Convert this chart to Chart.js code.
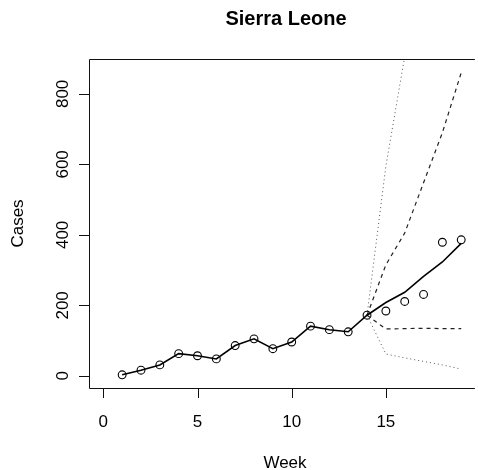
<!DOCTYPE html>
<html>
<head>
<meta charset="utf-8">
<title>Sierra Leone</title>
<script src="https://cdn.jsdelivr.net/npm/chart.js@4/dist/chart.umd.min.js"></script>
<style>
  html, body { margin: 0; padding: 0; background: #fff; }
  #wrap { width: 478px; height: 470px; position: relative; }
</style>
</head>
<body>
<div id="wrap"><canvas id="casesChart"></canvas></div>
<script>
// weekly case counts
var weeks = [1, 2, 3, 4, 5, 6, 7, 8, 9, 10, 11, 12, 13, 14, 15, 16, 17, 18, 19];
var observed = [3, 16, 31, 63, 57, 48, 86, 105, 77, 96, 141, 131, 125, 172, 184, 211, 231, 379, 386];
// fitted up to week 14, then projected median
var fitted = [3, 16, 31, 63, 57, 48, 86, 105, 77, 96, 141, 131, 125, 172, 208, 237, 282, 323, 376];

// projection bands start at week 14
var bandWeeks = [14, 15, 16, 17, 18, 19];
var upper50 = [172, 315, 405, 548, 690, 860];
var lower50 = [172, 133, 134, 135, 134, 134];
var upper95 = [172, 595, 906, 1250, 1650, 2100];
var lower95 = [172, 62, 51, 41, 31, 19];

var xTicks = [0, 5, 10, 15];
var yTicks = [0, 200, 400, 600, 800];

var FONT = '"Liberation Sans", Arial, Helvetica, sans-serif';

function pts(xs, ys) {
    return xs.map(function (x, i) { return { x: x, y: ys[i] }; });
}

// box, ticks and labels drawn in the base-graphics style
var axesPlugin = {
    id: 'baseAxes',
    afterDraw: function (chart) {
        var ctx = chart.ctx;
        var a = chart.chartArea;
        var sx = chart.scales.x, sy = chart.scales.y;
        ctx.save();
        ctx.strokeStyle = '#111';
        ctx.lineWidth = 1;
        ctx.beginPath();
        ctx.moveTo(a.right + 2, a.top + 0.5);
        ctx.lineTo(a.left + 0.5, a.top + 0.5);
        ctx.lineTo(a.left + 0.5, a.bottom + 0.5);
        ctx.lineTo(a.right + 2, a.bottom + 0.5);
        ctx.stroke();

        ctx.fillStyle = '#000';
        ctx.font = '17px ' + FONT;

        // x axis
        xTicks.forEach(function (t) {
            var px = Math.round(sx.getPixelForValue(t)) + 0.5;
            ctx.beginPath();
            ctx.moveTo(px, a.bottom + 1);
            ctx.lineTo(px, a.bottom + 10);
            ctx.stroke();
            ctx.textAlign = 'center';
            ctx.textBaseline = 'alphabetic';
            ctx.fillText(String(t), sx.getPixelForValue(t), 427);
        });

        // y axis, labels turned sideways
        yTicks.forEach(function (t) {
            var py = Math.round(sy.getPixelForValue(t)) + 0.5;
            ctx.beginPath();
            ctx.moveTo(a.left, py);
            ctx.lineTo(a.left - 10, py);
            ctx.stroke();
            ctx.save();
            ctx.translate(68, sy.getPixelForValue(t));
            ctx.rotate(-Math.PI / 2);
            ctx.textAlign = 'center';
            ctx.textBaseline = 'alphabetic';
            ctx.fillText(String(t), 0, 0);
            ctx.restore();
        });

        var cx = (a.left + 481) / 2;
        ctx.textAlign = 'center';
        ctx.textBaseline = 'alphabetic';
        ctx.fillText('Week', cx, 468);

        ctx.save();
        ctx.translate(23, (a.top + a.bottom) / 2);
        ctx.rotate(-Math.PI / 2);
        ctx.fillText('Cases', 0, 0);
        ctx.restore();

        ctx.font = 'bold 20px ' + FONT;
        ctx.fillText('Sierra Leone', cx + 1, 25);
        ctx.restore();
    }
};

var ctxL = document.getElementById('casesChart').getContext('2d');
var casesChart = new Chart(ctxL, {
    type: 'line',
    plugins: [axesPlugin],
    data: {
        datasets: [{
            label: 'Observed',
            data: pts(weeks, observed),
            showLine: false,
            pointStyle: 'circle',
            pointRadius: 3.9,
            pointBorderWidth: 1.1,
            pointBorderColor: '#000',
            pointBackgroundColor: 'rgba(0,0,0,0)'
        }, {
            label: 'Fitted',
            data: pts(weeks, fitted),
            borderColor: '#000',
            borderWidth: 1.6,
            pointRadius: 0
        }, {
            label: 'Upper 50%',
            data: pts(bandWeeks, upper50),
            borderColor: '#222',
            borderWidth: 1.2,
            borderDash: [4, 4],
            pointRadius: 0
        }, {
            label: 'Lower 50%',
            data: pts(bandWeeks, lower50),
            borderColor: '#222',
            borderWidth: 1.2,
            borderDash: [4, 4],
            pointRadius: 0
        }, {
            label: 'Upper 95%',
            data: pts(bandWeeks, upper95),
            borderColor: '#555',
            borderWidth: 1,
            borderDash: [1, 3],
            pointRadius: 0
        }, {
            label: 'Lower 95%',
            data: pts(bandWeeks, lower95),
            borderColor: '#555',
            borderWidth: 1,
            borderDash: [1, 3],
            pointRadius: 0
        }]
    },
    options: {
        responsive: true,
        maintainAspectRatio: false,
        animation: false,
        events: [],
        layout: { padding: { left: 89, top: 59, right: 0, bottom: 82 } },
        plugins: {
            legend: { display: false },
            tooltip: { enabled: false }
        },
        scales: {
            x: { type: 'linear', min: -0.76, max: 19.62, display: false },
            y: { type: 'linear', min: -34.5, max: 899, display: false }
        }
    }
});
</script>
</body>
</html>
